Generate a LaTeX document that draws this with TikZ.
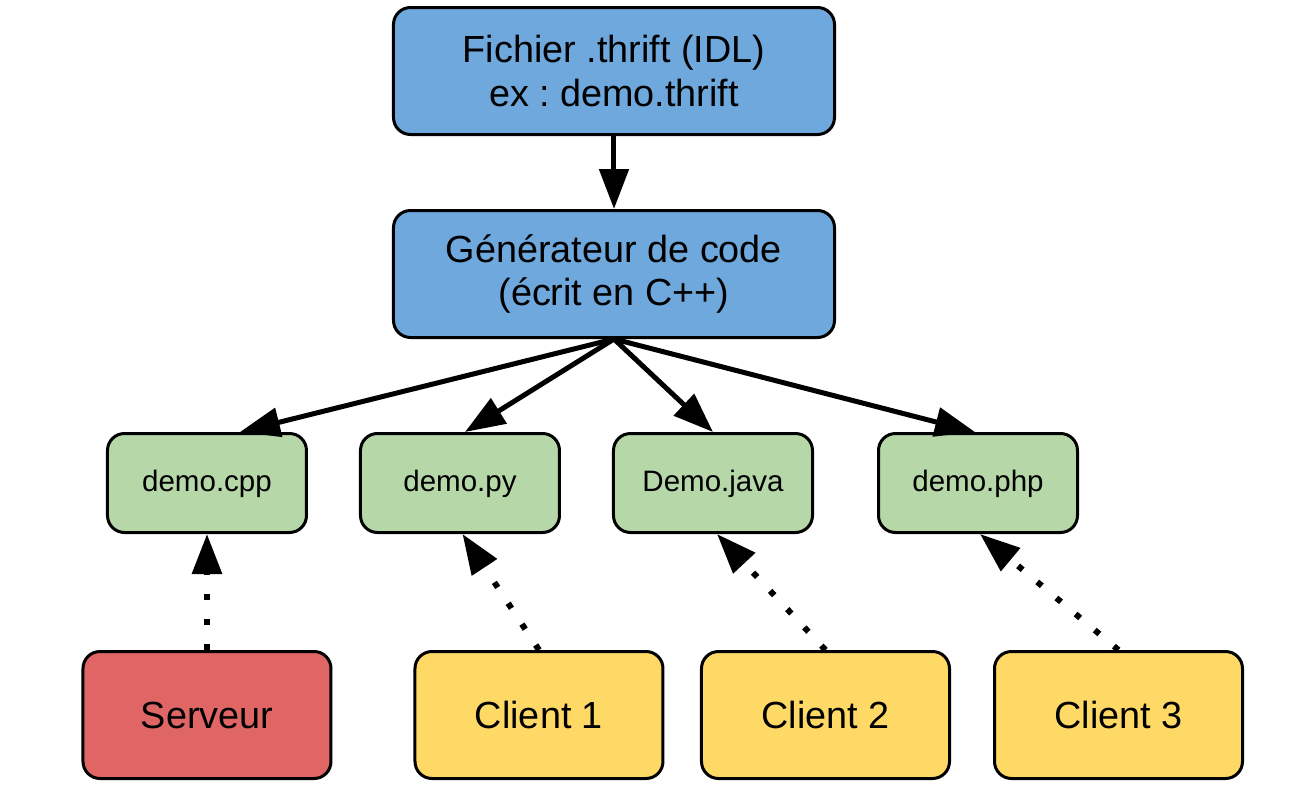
\documentclass[tikz,border=0pt]{standalone}
\usepackage{fontspec}
\setmainfont{Liberation Sans}
\usetikzlibrary{shapes,arrows.meta,positioning,calc}

\definecolor{idlblue}{HTML}{6FA8DC}
\definecolor{filegreen}{HTML}{B6D7A8}
\definecolor{serverred}{HTML}{E06666}
\definecolor{clientyellow}{HTML}{FFD966}

\begin{document}
\frenchspacing
\begin{tikzpicture}[node distance=1.46cm, auto,
    every node/.style={rectangle, draw=black, line width=0.06cm, align=center, rounded corners=0.34cm},
    bigbox/.style={minimum width=8.82cm, minimum height=2.54cm, fill=idlblue, font=\fontsize{21.5}{25}\selectfont},
    filebox/.style={minimum width=3.98cm, minimum height=1.98cm, fill=filegreen, text height=1.12em, text depth=0.21em, font=\fontsize{16.8}{20}\selectfont},
    endbox/.style={minimum width=4.96cm, minimum height=2.54cm, font=\fontsize{21.5}{25}\selectfont},
    flow/.style={-{Triangle[length=0.8cm,width=0.58cm]}, line width=0.1cm},
    uses/.style={-{Triangle[length=0.8cm,width=0.58cm]}, line width=0.12cm, dash pattern=on 0.12cm off 0.38cm}
]
    \useasboundingbox (-12.28,1.42) rectangle (13.58,-14.74);

    % IDL file and code generator
    \node[bigbox] (idl) {Fichier .thrift (IDL)\\ex : demo.thrift};
    \node[bigbox] (gen) [below=1.46cm of idl] {Générateur de code\\(écrit en C++)};

    % Generated files
    \node[filebox] (py) [below=1.86cm of gen, xshift=-3.08cm] {demo.py};
    \node[filebox] (java) [below=1.86cm of gen, xshift=1.98cm] {Demo.java};
    \node[filebox] (cpp) [left=1.02cm of py] {demo.cpp};
    \node[filebox] (php) [right=1.26cm of java] {demo.php};

    % Server and clients
    \node[endbox, fill=serverred] (server) [below=2.32cm of cpp] {Serveur};
    \node[endbox, fill=clientyellow] (client1) [below=2.32cm of py, xshift=1.58cm] {Client 1};
    \node[endbox, fill=clientyellow] (client2) [below=2.32cm of java, xshift=2.25cm] {Client 2};
    \node[endbox, fill=clientyellow] (client3) [below=2.32cm of php, xshift=2.81cm] {Client 3};

    % Generation
    \path (idl) edge[flow] (gen);
    \path (gen.south) edge[flow] ([xshift=0.66cm]cpp.north)
                      edge[flow] ([xshift=0.1cm]py.north)
                      edge[flow] (java.north)
                      edge[flow] ([xshift=-0.06cm]php.north);

    % Usage
    \path (server) edge[uses] (cpp);
    \path (client1.north) edge[uses] ([xshift=0.05cm]py.south);
    \path (client2.north) edge[uses] ([xshift=0.08cm]java.south);
    \path (client3.north) edge[uses] ([xshift=0.04cm]php.south);

\end{tikzpicture}
\end{document}
